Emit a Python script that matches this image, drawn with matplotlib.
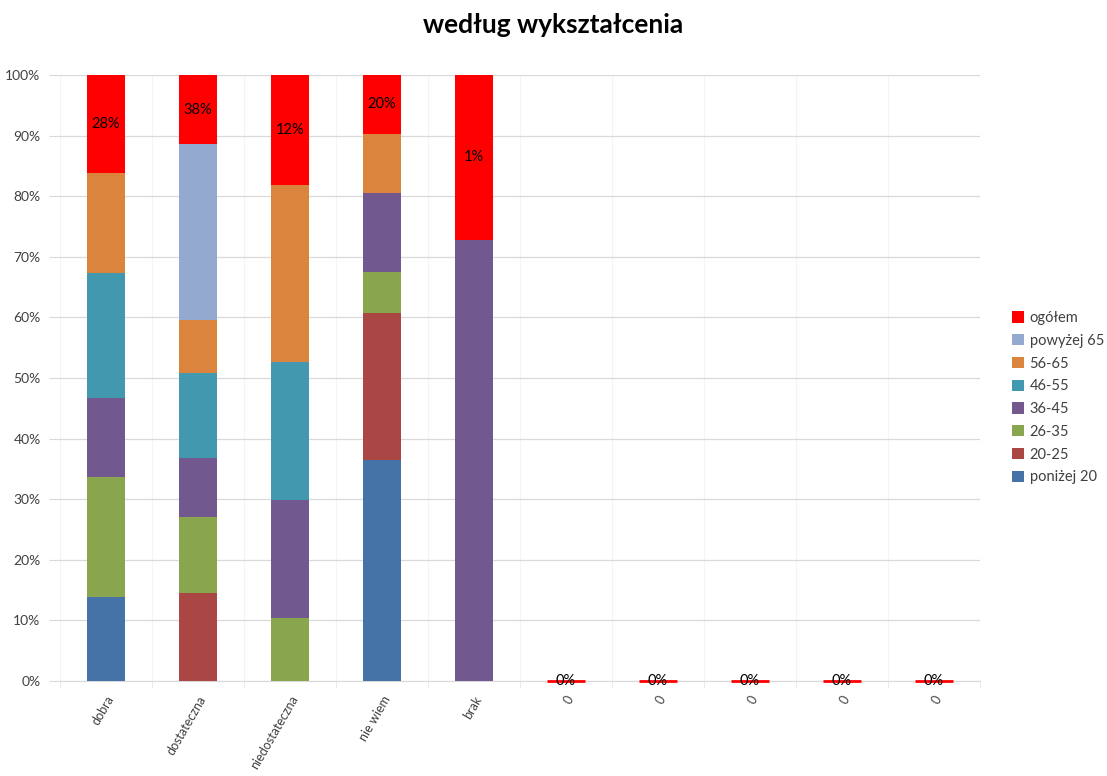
import matplotlib
matplotlib.use("Agg")
import matplotlib.pyplot as plt
import numpy as np
from matplotlib.ticker import PercentFormatter, FixedLocator

plt.rcParams['font.family'] = ['Lato', 'DejaVu Sans']

categories = ["dobra", "dostateczna", "niedostateczna", "nie wiem", "brak", "0", "0", "0", "0", "0"]
series_names = ["poniżej 20", "20-25", "26-35", "36-45", "46-55", "56-65", "powyżej 65", "ogółem"]
colors = ["#4572A7", "#AA4643", "#89A54E", "#71588F", "#4198AF", "#DB843D", "#93A9CF", "#FF0000"]

# share of each column (percent)
poniżej_20 = [13.9, 0, 0, 36.4, 0, 0, 0, 0, 0, 0]
s20_25     = [0, 14.6, 0, 24.3, 0, 0, 0, 0, 0, 0]
s26_35     = [19.8, 12.5, 10.4, 6.8, 0, 0, 0, 0, 0, 0]
s36_45     = [13.0, 9.7, 19.4, 13.0, 72.8, 0, 0, 0, 0, 0]
s46_55     = [20.6, 14.0, 22.9, 0, 0, 0, 0, 0, 0, 0]
s56_65     = [16.6, 8.7, 29.1, 9.8, 0, 0, 0, 0, 0, 0]
powyżej_65 = [0, 29.1, 0, 0, 0, 0, 0, 0, 0, 0]
ogółem     = [16.1, 11.4, 18.2, 9.7, 27.2, 0, 0, 0, 0, 0]
ogółem_labels = ["28%", "38%", "12%", "20%", "1%", "0%", "0%", "0%", "0%", "0%"]

series = [poniżej_20, s20_25, s26_35, s36_45, s46_55, s56_65, powyżej_65, ogółem]

fig = plt.figure(figsize=(11.07, 7.76), dpi=100)
ax = fig.add_axes([60/1107, 95/776, 920/1107, 606/776])

x = np.arange(len(categories))
width = 0.41
bottom = np.zeros(len(categories))
handles = []
for name, vals, col in zip(series_names, series, colors):
    vals = np.array(vals, dtype=float)
    b = ax.bar(x, vals, width, bottom=bottom, color=col, label=name, zorder=3)
    if name == "ogółem":
        zero = vals == 0
        ax.hlines(bottom[zero], x[zero] - width / 2, x[zero] + width / 2,
                  color=col, linewidth=2, zorder=3.5, clip_on=False)
        for xi, v, bt, lab in zip(x, vals, bottom, ogółem_labels):
            ax.text(xi, bt + v / 2, lab, ha='center', va='center', fontsize=10.5,
                    color='#000000', zorder=4)
    handles.append(b)
    bottom += vals

ax.set_xlim(-0.5, len(categories) - 0.5)
ax.set_ylim(0, 100)
ax.yaxis.set_major_locator(FixedLocator(np.arange(0, 101, 10)))
ax.yaxis.set_major_formatter(PercentFormatter(decimals=0))
ax.set_xticks(x)
ax.set_xticklabels(categories, rotation=60, ha='right', rotation_mode='anchor', fontsize=9, color='#404040')
ax.set_xticks(np.arange(-0.5, len(categories), 1), minor=True)
ax.tick_params(axis='x', which='major', length=0, pad=9)
ax.tick_params(axis='x', which='minor', length=5, color='#E6E6E6')
ax.tick_params(axis='y', length=8, color='#D9D9D9', labelsize=10, labelcolor='#404040', pad=6)

ax.grid(axis='y', which='major', color='#D9D9D9', linewidth=0.9, zorder=0)
ax.grid(axis='x', which='minor', color='#F4F4F4', linewidth=0.8, zorder=0)
for s in ['top', 'right', 'left']:
    ax.spines[s].set_visible(False)
ax.spines['bottom'].set_color('#D9D9D9')
ax.spines['bottom'].set_zorder(2)

fig.text(553/1107, 1 - 25/776, "według wykształcenia", ha='center', va='center',
         fontsize=19, fontweight='bold', color='#000000')

leg = fig.legend(handles[::-1], series_names[::-1], loc='upper left',
                 bbox_to_anchor=(999/1107, 1 - 298/776), frameon=False,
                 fontsize=10.5, handlelength=0.8, handleheight=0.8, handletextpad=0.4,
                 labelspacing=0.6)
for t in leg.get_texts():
    t.set_color('#404040')

fig.savefig("out.png", dpi=100)
